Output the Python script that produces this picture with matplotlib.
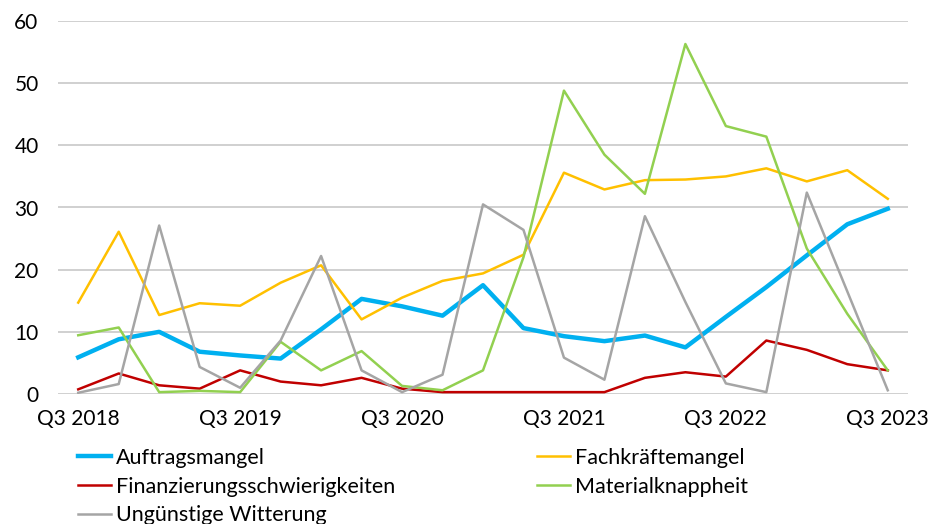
import matplotlib

matplotlib.use("Agg")
import matplotlib.pyplot as plt  # noqa: E402

quarters = [f"Q{q} {y}" for y, q in
            [(2018, 3), (2018, 4)] + [(y, q) for y in (2019, 2020, 2021, 2022) for q in (1, 2, 3, 4)]
            + [(2023, 1), (2023, 2), (2023, 3)]]

auftragsmangel = [5.9, 8.8, 10.0, 6.8, 6.2, 5.7, 10.4, 15.3, 14.1, 12.6, 17.5,
                  10.6, 9.3, 8.5, 9.4, 7.5, 12.4, 17.2, 22.3, 27.3, 29.8]
fachkraefte = [14.7, 26.1, 12.7, 14.6, 14.2, 17.9, 20.7, 12.0, 15.5, 18.2, 19.4,
               22.4, 35.6, 32.9, 34.4, 34.5, 35.0, 36.3, 34.2, 36.0, 31.4]
finanzierung = [0.75, 3.3, 1.4, 0.86, 3.8, 2.0, 1.4, 2.6, 0.86, 0.3, 0.3,
                0.3, 0.3, 0.3, 2.6, 3.5, 2.8, 8.6, 7.1, 4.8, 3.8]
material = [9.45, 10.7, 0.3, 0.5, 0.3, 8.4, 3.8, 6.9, 1.3, 0.6, 3.8,
            22.0, 48.8, 38.5, 32.2, 56.3, 43.1, 41.4, 23.4, 12.9, 3.8]
witterung = [0.2, 1.6, 27.1, 4.35, 1.0, 8.6, 22.2, 3.8, 0.3, 3.1, 30.5,
             26.4, 5.85, 2.3, 28.6, 14.8, 1.7, 0.3, 32.4, 16.5, 0.6]

plt.rcParams["font.family"] = ["Lato", "DejaVu Sans"]
plt.rcParams["font.size"] = 15

fig = plt.figure(figsize=(9.3, 5.24), dpi=100)
ax = fig.add_axes([58 / 930, 1 - 394 / 524, 850 / 930, 373 / 524])

x = list(range(len(quarters)))
l_auf, = ax.plot(x, auftragsmangel, color="#00B0F0", lw=3.2, label="Auftragsmangel")
l_fach, = ax.plot(x, fachkraefte, color="#FFC000", lw=1.8, label="Fachkräftemangel")
l_fin, = ax.plot(x, finanzierung, color="#C00000", lw=1.8, label="Finanzierungsschwierigkeiten")
l_mat, = ax.plot(x, material, color="#92D050", lw=1.8, label="Materialknappheit")
l_wit, = ax.plot(x, witterung, color="#A5A5A5", lw=1.8, label="Ungünstige Witterung")

ax.set_xlim(-0.5, len(quarters) - 0.5)
ax.set_ylim(0, 60)
ax.set_yticks(range(0, 61, 10))
ax.set_xticks(x[::4])
ax.set_xticklabels(quarters[::4])
ax.grid(axis="y", color="#C4C4C4", lw=1.1)
ax.set_axisbelow(True)
for s in ax.spines.values():
    s.set_visible(False)
ax.tick_params(axis="both", length=0)
ax.tick_params(axis="y", pad=14)
ax.tick_params(axis="x", pad=11)

handles = [l_auf, l_fin, l_wit, l_fach, l_mat]
fig.legend(handles, [h.get_label() for h in handles], ncol=2, frameon=False,
           loc="upper left", bbox_to_anchor=(78 / 930, 1 - 448 / 524),
           prop={"size": 15.5},
           borderpad=0, borderaxespad=0, handlelength=1.55, handletextpad=0.2,
           labelspacing=0.4, columnspacing=6.6)

fig.savefig("out.png", dpi=100)
